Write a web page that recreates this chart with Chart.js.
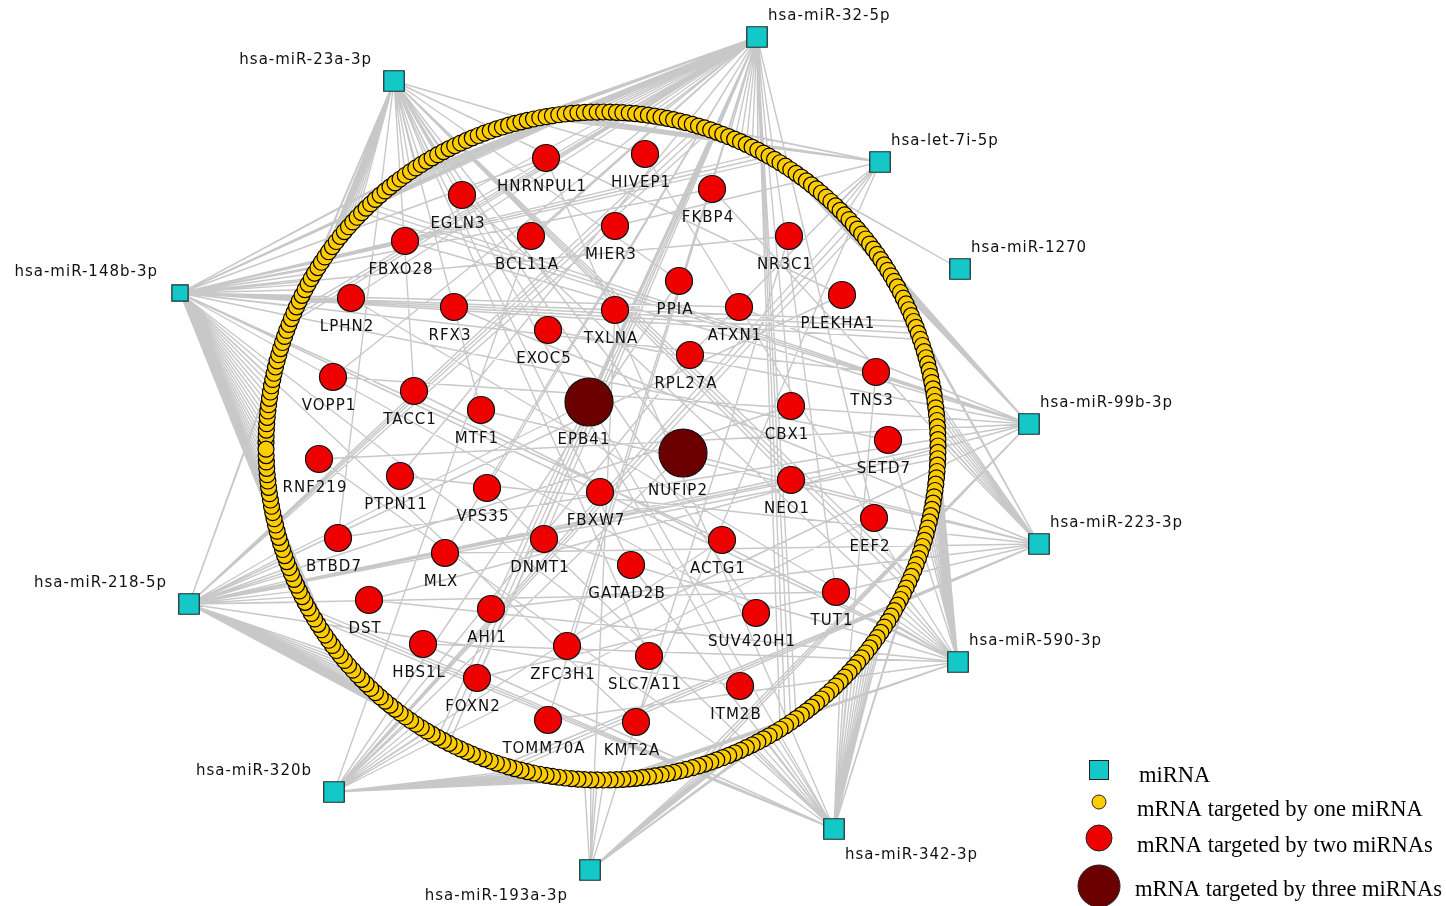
<!DOCTYPE html>
<html>
<head>
<meta charset="utf-8">
<title>miRNA - mRNA network</title>
<script src="https://cdn.jsdelivr.net/npm/chart.js@4.4.1/dist/chart.umd.min.js"></script>
<style>
  html, body { margin: 0; padding: 0; background: #fff; }
  #wrap { width: 1446px; height: 906px; }
</style>
</head>
<body>
<div id="wrap"><canvas id="net" width="1446" height="906"></canvas></div>
<script>
// miRNA nodes (network layout coordinates)
const mirnaNames = ['hsa-miR-32-5p', 'hsa-miR-23a-3p', 'hsa-let-7i-5p', 'hsa-miR-1270',
  'hsa-miR-148b-3p', 'hsa-miR-99b-3p', 'hsa-miR-223-3p', 'hsa-miR-218-5p',
  'hsa-miR-590-3p', 'hsa-miR-320b', 'hsa-miR-342-3p', 'hsa-miR-193a-3p'];
const mirnaX = [757, 394, 880, 960, 180, 1029, 1039, 189, 958, 334, 834, 590];
const mirnaY = [37, 81, 162, 269, 293, 424, 544, 604, 662, 792, 829, 870];

// mRNAs targeted by two miRNAs
const geneNames = ['HNRNPUL1', 'HIVEP1', 'FKBP4', 'EGLN3', 'MIER3', 'BCL11A', 'NR3C1', 'FBXO28',
  'PLEKHA1', 'LPHN2', 'PPIA', 'ATXN1', 'RFX3', 'TXLNA', 'EXOC5', 'RPL27A', 'TNS3', 'VOPP1',
  'TACC1', 'MTF1', 'CBX1', 'SETD7', 'RNF219', 'PTPN11', 'NEO1', 'VPS35', 'FBXW7', 'EEF2',
  'BTBD7', 'DNMT1', 'ACTG1', 'MLX', 'GATAD2B', 'TUT1', 'DST', 'AHI1', 'SUV420H1', 'HBS1L',
  'ZFC3H1', 'SLC7A11', 'FOXN2', 'ITM2B', 'TOMM70A', 'KMT2A'];
const geneX = [546, 645, 712, 462, 615, 531, 789, 405, 842, 351, 679, 739, 454, 615, 548, 690,
  876, 333, 414, 481, 791, 888, 319, 400, 791, 487, 600, 874, 338, 544, 722, 445, 631, 836,
  369, 491, 756, 423, 567, 649, 477, 740, 548, 636];
const geneY = [158, 154, 189, 195, 226, 236, 236, 241, 295, 298, 281, 307, 307, 310, 330, 355,
  372, 377, 391, 410, 406, 440, 459, 476, 480, 488, 492, 518, 538, 539, 540, 553, 565, 592,
  600, 609, 613, 644, 646, 656, 678, 686, 720, 722];
const geneTargets = [[4, 10], [1, 8], [4, 6], [0, 8], [7, 2], [0, 9], [4, 11], [0, 5],
  [7, 1], [0, 8], [9, 1], [4, 5], [0, 6], [11, 4], [5, 1], [9, 2], [4, 10], [5, 0],
  [8, 1], [6, 1], [7, 0], [4, 8], [5, 10], [0, 6], [7, 1], [0, 10], [4, 8], [9, 0],
  [5, 1], [0, 8], [4, 9], [6, 0], [1, 10], [7, 0], [5, 8], [0, 6], [4, 1], [10, 8],
  [0, 5], [4, 1], [0, 6], [7, 1], [0, 8], [4, 2]];

// mRNAs targeted by three miRNAs
const hubNames = ['EPB41', 'NUFIP2'];
const hubX = [589, 683];
const hubY = [402, 453];
const hubTargets = [[0, 7, 10], [1, 9, 6]];

// mRNAs targeted by one miRNA, in ring order: [miRNA index, number of targets]
const ringBlocks = [[4, 12], [7, 3], [1, 4], [0, 3], [4, 8], [1, 10], [5, 3], [0, 6],
  [1, 8], [4, 5], [0, 10], [2, 4], [4, 3], [0, 12], [2, 6], [7, 3], [3, 2], [0, 6],
  [4, 3], [5, 10], [2, 4], [9, 3], [5, 8], [6, 8], [4, 4], [8, 8], [6, 8], [7, 3],
  [8, 12], [10, 6], [1, 3], [8, 6], [10, 12], [11, 8], [0, 4], [10, 6], [11, 6], [5, 3],
  [9, 10], [8, 3], [11, 4], [9, 10], [6, 3], [7, 8], [0, 3], [9, 6], [7, 14], [4, 6],
  [10, 3], [7, 10], [4, 16]];

const legendLabels = ['miRNA', 'mRNA targeted by one miRNA', 'mRNA targeted by two miRNAs',
  'mRNA targeted by three miRNAs'];

// circular layout for the single-target mRNAs
const ring = { cx: 602, cy: 446, rx: 336, ry: 334 };
const ringTotal = ringBlocks.reduce((s, b) => s + b[1], 0);
const ringPoints = [];
const ringOwner = [];
ringBlocks.forEach(([m, n]) => {
  for (let k = 0; k < n; k++) {
    const a = Math.PI + (ringPoints.length + 0.5) * 2 * Math.PI / ringTotal;
    ringPoints.push({ x: ring.cx + ring.rx * Math.cos(a), y: ring.cy + ring.ry * Math.sin(a) });
    ringOwner.push(m);
  }
});

const mirnaPoints = mirnaNames.map((_, i) => ({ x: mirnaX[i], y: mirnaY[i] }));
const genePoints = geneNames.map((_, i) => ({ x: geneX[i], y: geneY[i] }));
const hubPoints = hubNames.map((_, i) => ({ x: hubX[i], y: hubY[i] }));

// edges as one broken line: a, b, gap, a, b, gap ...
const gap = { x: NaN, y: NaN };
const edgePoints = [];
function addEdge(m, p) {
  edgePoints.push(mirnaPoints[m], p, gap);
}
ringPoints.forEach((p, i) => addEdge(ringOwner[i], p));
genePoints.forEach((p, i) => geneTargets[i].forEach(m => addEdge(m, p)));
hubPoints.forEach((p, i) => hubTargets[i].forEach(m => addEdge(m, p)));

// miRNA label placement: ur, ul, lr, ll
const mirnaLabelSide = ['ur', 'ul', 'ur', 'ur', 'ul', 'ur', 'ur', 'ul', 'ur', 'ul', 'lr', 'll'];

const COLORS = {
  mirna: '#14c8c8',
  one: '#ffcc00',
  two: '#ee0000',
  three: '#6a0000',
  edge: '#c8c8c8'
};

const labelPlugin = {
  id: 'nodeLabels',
  afterDatasetsDraw(chart) {
    const { ctx, scales: { x, y } } = chart;
    ctx.save();
    ctx.fillStyle = '#111';
    ctx.font = "15px 'DejaVu Sans', sans-serif";
    ctx.letterSpacing = '1px';
    ctx.textBaseline = 'middle';

    ctx.textAlign = 'center';
    geneNames.forEach((name, i) => {
      ctx.fillText(name, x.getPixelForValue(geneX[i]) - 4, y.getPixelForValue(geneY[i]) + 29);
    });
    hubNames.forEach((name, i) => {
      ctx.fillText(name, x.getPixelForValue(hubX[i]) - 5, y.getPixelForValue(hubY[i]) + 38);
    });

    mirnaNames.forEach((name, i) => {
      const px = x.getPixelForValue(mirnaX[i]);
      const py = y.getPixelForValue(mirnaY[i]);
      const side = mirnaLabelSide[i];
      ctx.textAlign = side[1] === 'r' ? 'left' : 'right';
      const dx = side[1] === 'r' ? 11 : -22;
      const dy = side[0] === 'u' ? -21 : 26;
      ctx.fillText(name, px + dx, py + dy);
    });
    ctx.letterSpacing = '0px';

    // legend, bottom right
    const lx = 1099;
    const rows = [776, 810, 846, 890];
    ctx.strokeStyle = '#222';
    ctx.lineWidth = 1;
    ctx.fillStyle = COLORS.mirna;
    ctx.fillRect(1089.5, 760.5, 19, 19);
    ctx.strokeRect(1089.5, 760.5, 19, 19);
    [[802, 7, COLORS.one], [838, 13, COLORS.two], [886, 21, COLORS.three]].forEach(([cy, r, c]) => {
      ctx.beginPath();
      ctx.arc(lx, cy, r, 0, Math.PI * 2);
      ctx.fillStyle = c;
      ctx.fill();
      ctx.stroke();
    });
    ctx.fillStyle = '#000';
    ctx.textAlign = 'left';
    ctx.font = "22.5px 'Liberation Serif', 'Times New Roman', serif";
    ctx.fillText(legendLabels[0], 1139, rows[0]);
    ctx.fillText(legendLabels[1], 1137, rows[1]);
    ctx.fillText(legendLabels[2], 1137, rows[2]);
    ctx.fillText(legendLabels[3], 1135, rows[3]);
    ctx.restore();
  }
};

new Chart(document.getElementById('net'), {
  type: 'scatter',
  data: {
    datasets: [
      {
        label: 'miRNA',
        data: mirnaPoints,
        order: 1,
        pointStyle: 'rect',
        pointRadius: ctx => (ctx.dataIndex === 4 ? 11.5 : 14.5),
        backgroundColor: COLORS.mirna,
        borderColor: '#1d2b2b',
        borderWidth: 1.2
      },
      {
        label: 'three',
        data: hubPoints,
        order: 2,
        pointRadius: 24,
        backgroundColor: COLORS.three,
        borderColor: '#111',
        borderWidth: 1.2
      },
      {
        label: 'two',
        data: genePoints,
        order: 2,
        pointRadius: 13.5,
        backgroundColor: COLORS.two,
        borderColor: '#111',
        borderWidth: 1.2
      },
      {
        label: 'one',
        data: ringPoints,
        order: 3,
        pointRadius: 8,
        backgroundColor: COLORS.one,
        borderColor: '#000',
        borderWidth: 1.2
      },
      {
        label: 'edges',
        data: edgePoints,
        order: 4,
        showLine: true,
        spanGaps: false,
        pointRadius: 0,
        borderColor: COLORS.edge,
        borderWidth: 1.4,
        tension: 0
      }
    ]
  },
  options: {
    responsive: false,
    animation: false,
    events: [],
    layout: { padding: 0, autoPadding: false },
    clip: false,
    plugins: {
      legend: { display: false },
      tooltip: { enabled: false }
    },
    scales: {
      x: { type: 'linear', min: 0, max: 1446, display: false },
      y: { type: 'linear', min: 0, max: 906, reverse: true, display: false }
    }
  },
  plugins: [labelPlugin]
});
</script>
</body>
</html>
